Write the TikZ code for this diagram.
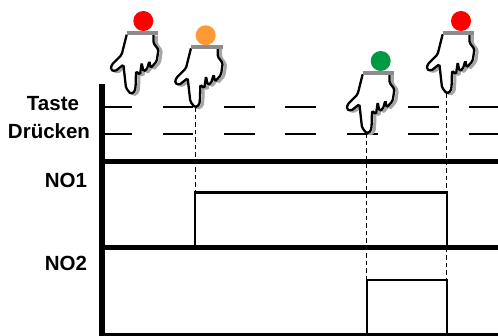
\documentclass[tikz,border=0pt]{standalone}
\usepackage{fontspec}
\setmainfont{Liberation Sans}
\tikzset{
	lbl/.style={font=\fontsize{20.5}{24}\selectfont\bfseries,inner sep=0pt},
	axisline/.style={line width=5pt},
	level/.style={line width=1.8pt},
	signal/.style={line width=2.1pt},
	guide/.style={line width=1pt,dash pattern=on 4.5pt off 3pt},
	lamp/.style={circle,fill=#1,minimum size=20pt,inner sep=0pt},
	pics/hand/.style={code={
		\def\handpath{(-4,-59.3)--(-5.7,-52.7)--(-9,-39.3)--(-19,-29.3)--(-20,-24.3)--(-15.7,-22.7)--(-7.3,-29.3)--(-4.7,-6)--(0,0)--(4.3,-2.7)--(5,-9.3)--(5.3,-22.7)--(9.3,-19.3)--(11,-31)--(12.7,-22.7)--(16,-24.3)--(18.7,-32.7)--(20,-26)--(26,-32.7)--(27.7,-44.3)--(22.7,-51)--(22.7,-59.3)}
		\draw[gray!70,line width=3pt,rounded corners=1.5pt,xshift=3pt,yshift=-1pt] \handpath;
		\fill[white,rounded corners=1.5pt] \handpath--cycle;
		\draw[line width=2.3pt,rounded corners=1.5pt] \handpath;
		\draw[gray!90,line width=4pt] (-4,-60.5)--(27.5,-60.5);
	}}
}
\definecolor{lampred}{RGB}{255,0,0}
\definecolor{lamporange}{RGB}{255,153,51}
\definecolor{lampgreen}{RGB}{0,154,68}

\begin{document}
\begin{tikzpicture}[x=1pt,y=-1pt]
\useasboundingbox (0,0) rectangle (498,336);

% labels
\node[lbl] (taste) at (53,104) {Taste};
\node[lbl] (druecken) at (49,131.5) {Drücken};
\node[lbl] (no1) at (66,180) {NO1};
\node[lbl] (no2) at (66,263) {NO2};

% key levels
\foreach \a/\b in {105/132,163/193,224/255,285/316,408/439,469/498}
	\draw[level] (\a,107)--(\b,107);
\foreach \a/\b in {105/132,163/193,224/255,285/316,347/378,408/439,469/498}
	\draw[level] (\a,134)--(\b,134);

% axes
\draw[line width=6pt] (102,84)--(102,336);
\draw[axisline] (102,161.5)--(498,161.5);
\draw[axisline] (102,248)--(498,248);
\draw[line width=3pt] (102,334.5)--(498,334.5);

\coordinate (t1) at (130.7,94);
\coordinate (t2) at (195,107.5);
\coordinate (t3) at (366.7,133.5);
\coordinate (t4) at (446.7,93.5);

% signals
\coordinate (a1) at (195,192.5);
\coordinate (a2) at (446.7,192.5);
\coordinate (b1) at (366.7,280);
\coordinate (b2) at (446.7,280);
\draw[signal] (195,248)--(a1)--(a2)--(446.7,248);
\draw[signal] (366.7,334)--(b1)--(b2)--(446.7,334);
\draw[guide] (t2)--(a1);
\draw[guide] (t3)--(b1);
\draw[guide] (t4)--(a2);
\draw[guide] (446.7,248)--(b2);

% hands
\foreach \t in {t1,t2,t3,t4}
	\pic at (\t) {hand};

\node[lamp=lampred] (l1) at (143.3,21) {};
\node[lamp=lamporange] (l2) at (205.7,35.3) {};
\node[lamp=lampgreen] (l3) at (380.7,61) {};
\node[lamp=lampred] (l4) at (461,21) {};
\end{tikzpicture}
\end{document}
